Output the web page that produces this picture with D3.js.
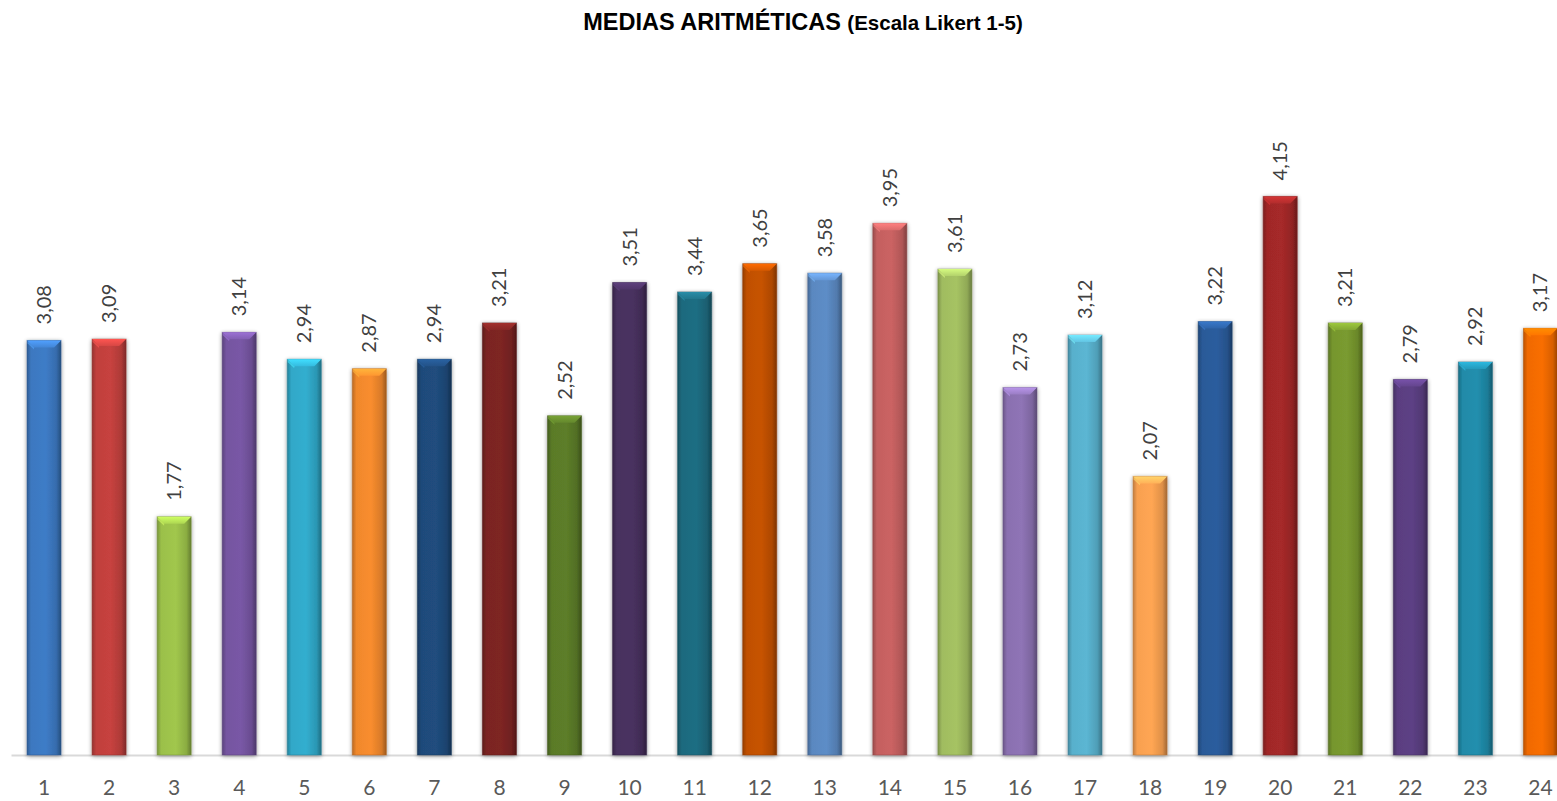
<!DOCTYPE html>
<html>
<head>
<meta charset="utf-8">
<script src="https://cdn.jsdelivr.net/npm/d3@7"></script>
<style>
  body { margin: 0; background: #fff; overflow: hidden; }
  svg { display: block; }
</style>
</head>
<body>
<div id="chart"></div>
<script>
// data
const items = d3.range(1, 25).map(String);
const means = [3.08, 3.09, 1.77, 3.14, 2.94, 2.87, 2.94, 3.21, 2.52, 3.51, 3.44, 3.65,
               3.58, 3.95, 3.61, 2.73, 3.12, 2.07, 3.22, 4.15, 3.21, 2.79, 2.92, 3.17];
const barColors = ['#3c78c0', '#c0403d', '#9bc04a', '#7555a0', '#30a8c8', '#f0882c',
                   '#1f4a7a', '#7a2422', '#5a7a28', '#47305e', '#1e6a7e', '#c05000',
                   '#5a88c0', '#c46060', '#a0bc60', '#8a70b0', '#58b0cc', '#f8a050',
                   '#2a5a98', '#a02828', '#76962e', '#5a3e80', '#208aa8', '#f06a00'];

const width = 1557, height = 801;
// the original picture is cut on the right, so the plot runs past the edge
const margin = ({top: 82, right: -16, bottom: 46, left: 11.5});

const svg = d3.select("#chart").append("svg")
    .attr("width", width)
    .attr("height", height)
    .attr("viewBox", [0, 0, width, height]);

const x = d3.scaleBand()
    .domain(items)
    .range([margin.left, width - margin.right])
    .paddingInner(0.477)
    .paddingOuter(0.2385);

const y = d3.scaleLinear()
    .domain([0, 5])
    .range([height - margin.bottom, margin.top]);

const defs = svg.append("defs");

// soft shadow like the office chart
const shadow = defs.append("filter").attr("id", "shadow")
    .attr("x", "-30%").attr("y", "-10%").attr("width", "160%").attr("height", "120%");
shadow.append("feGaussianBlur").attr("in", "SourceAlpha").attr("stdDeviation", 2.2);
shadow.append("feOffset").attr("dx", 0).attr("dy", 1).attr("result", "blur");
shadow.append("feComponentTransfer").append("feFuncA").attr("type", "linear").attr("slope", 0.45);
const merge = shadow.append("feMerge");
merge.append("feMergeNode");
merge.append("feMergeNode").attr("in", "SourceGraphic");

// cylinder-ish horizontal shading per bar
barColors.forEach((c, i) => {
    const base = d3.color(c);
    const g = defs.append("linearGradient").attr("id", "bar" + i)
        .attr("x1", "0%").attr("x2", "100%").attr("y1", "0%").attr("y2", "0%");
    g.append("stop").attr("offset", "0%").attr("stop-color", base.darker(0.7));
    g.append("stop").attr("offset", "12%").attr("stop-color", base);
    g.append("stop").attr("offset", "55%").attr("stop-color", base.brighter(0.1));
    g.append("stop").attr("offset", "86%").attr("stop-color", base.darker(0.3));
    g.append("stop").attr("offset", "100%").attr("stop-color", base.darker(1.2));
    // top bevel, lighter towards the rim
    const b = defs.append("linearGradient").attr("id", "bev" + i)
        .attr("x1", "0%").attr("x2", "0%").attr("y1", "0%").attr("y2", "100%");
    b.append("stop").attr("offset", "0%").attr("stop-color", base.brighter(0.8));
    b.append("stop").attr("offset", "100%").attr("stop-color", base.brighter(0.3));
});

// title
svg.append("text")
    .attr("x", 803)
    .attr("y", 30)
    .attr("text-anchor", "middle")
    .attr("font-family", "Liberation Sans, Arial, sans-serif")
    .attr("font-weight", "bold")
    .attr("fill", "#000")
    .call(t => t.append("tspan").attr("font-size", 23.5).text("MEDIAS ARITMÉTICAS "))
    .call(t => t.append("tspan").attr("font-size", 20.5).text("(Escala Likert 1-5)"));

// baseline
svg.append("line")
    .attr("x1", margin.left)
    .attr("x2", width)
    .attr("y1", y(0) + 0.5)
    .attr("y2", y(0) + 0.5)
    .attr("stroke", "#d9d9d9")
    .attr("stroke-width", 2);

const data = items.map((k, i) => ({item: k, value: means[i], i: i}));

const bars = svg.append("g")
    .selectAll("g")
    .data(data)
    .join("g");

bars.append("rect")
    .attr("x", d => x(d.item))
    .attr("y", d => y(d.value))
    .attr("width", x.bandwidth())
    .attr("height", d => y(0) - y(d.value))
    .attr("fill", d => `url(#bar${d.i})`)
    .attr("stroke", d => d3.color(barColors[d.i]).darker(0.8))
    .attr("stroke-opacity", 0.5)
    .attr("stroke-width", 1)
    .attr("filter", "url(#shadow)");

// bevel on top of each bar
const bev = 7;
bars.append("path")
    .attr("d", d => {
        const x0 = x(d.item), x1 = x0 + x.bandwidth(), t = y(d.value);
        return `M${x0},${t}L${x1},${t}L${x1 - bev},${t + bev}L${x0 + bev},${t + bev}Z`;
    })
    .attr("fill", d => `url(#bev${d.i})`);
bars.append("path")
    .attr("d", d => {
        const x0 = x(d.item), t = y(d.value);
        return `M${x0 + 0.5},${t + 0.5}L${x0 + bev},${t + bev}L${x0 + bev},${t + bev + 2}L${x0 + 0.5},${t + 3}Z`;
    })
    .attr("fill", d => d3.color(barColors[d.i]).brighter(0.9))
    .attr("opacity", 0.6);

// value labels, rotated
bars.append("text")
    .attr("transform", d => `translate(${x(d.item) + x.bandwidth() / 2},${y(d.value) - 16}) rotate(-90)`)
    .attr("dy", "0.35em")
    .attr("text-anchor", "start")
    .attr("font-family", "Lato, 'Open Sans', sans-serif")
    .attr("font-size", 20)
    .attr("fill", "#404040")
    .text(d => d.value.toFixed(2).replace(".", ","));

// category axis
const xAxis = g => g
    .attr("transform", `translate(0,${y(0)})`)
    .call(d3.axisBottom(x).tickSize(0).tickPadding(25))
    .call(g => g.select(".domain").remove())
    .call(g => g.selectAll("text")
        .attr("font-family", "Lato, 'Open Sans', sans-serif")
        .attr("font-size", 21)
        .attr("fill", "#595959"));

svg.append("g").call(xAxis);
</script>
</body>
</html>
